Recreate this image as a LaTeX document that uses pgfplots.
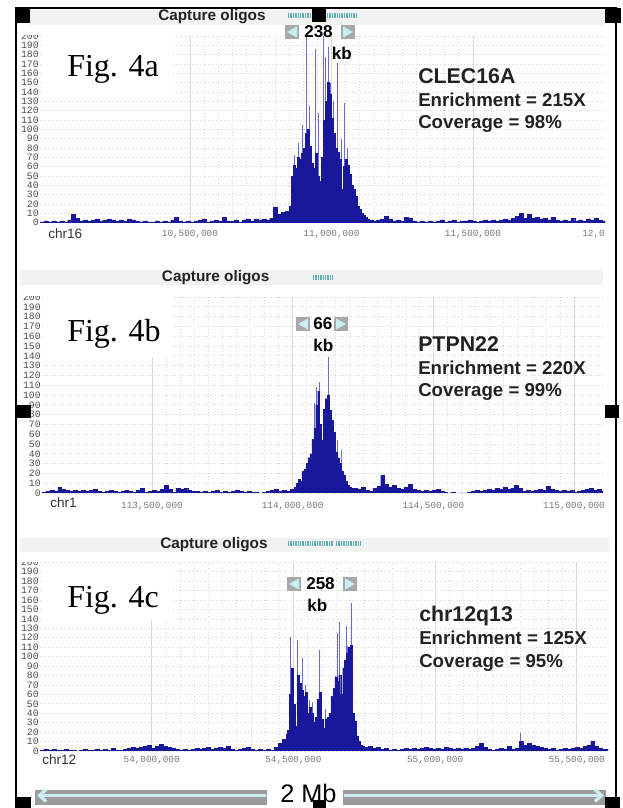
\documentclass[border=0pt]{standalone}
\usepackage{fontspec}
\setmainfont{Liberation Sans}
\newfontfamily\monofont{Liberation Mono}
\newfontfamily\figfont{Liberation Serif}
\usepackage{pgfplots}
\pgfplotsset{compat=1.18}
\usetikzlibrary{arrows.meta}

\definecolor{covc}{HTML}{18189A}
\definecolor{spkc}{HTML}{6A6AD0}
\definecolor{gridc}{HTML}{DADADA}
\definecolor{ylab}{HTML}{4A4A4A}
\definecolor{xlab}{HTML}{777777}
\definecolor{lbl}{HTML}{222222}
\definecolor{chrc}{HTML}{333333}
\definecolor{stripc}{HTML}{F2F2F2}
\definecolor{oligo}{HTML}{5DB3B5}
\definecolor{btng}{HTML}{A8A8A8}
\definecolor{btnc}{HTML}{CBEDF2}
\definecolor{barg}{HTML}{9C9C9C}

\pgfplotsset{
  browser/.style={
    scale only axis, anchor=south west,
    ymin=0, ymax=200, ytick={0,10,...,200},
    scaled x ticks=false,
    minor x tick num=9,
    grid=both,
    major x grid style={gridc, line width=0.5pt},
    minor x grid style={gridc, line width=0.4pt, dash pattern=on 0.8pt off 1.6pt},
    major y grid style={gridc, line width=0.5pt, dash pattern=on 0.8pt off 1.2pt},
    axis line style={draw=none},
    major tick length=0pt, minor tick length=0pt,
    /pgf/number format/assume math mode=true,
    yticklabel style={font=\monofont\fontsize{7.3}{7.3}\selectfont, text=ylab, inner sep=0.8pt},
    xticklabel style={font=\monofont\fontsize{7}{7}\selectfont, text=xlab, anchor=center},
  },
  cov/.style={const plot, fill=covc, draw=covc, line width=0.3pt},
  spk/.style={ycomb, draw=spkc, line width=0.75pt, mark=none},
}

% gray arrow buttons round the window size (top left corner in px)
\newcommand{\lbtn}[2]{\fill[btng] (#1,#2) rectangle ++(14,14);
  \fill[btnc] (#1+2,#2+7) -- (#1+12,#2+1.5) -- (#1+12,#2+12.5) -- cycle;}
\newcommand{\rbtn}[2]{\fill[btng] (#1,#2) rectangle ++(14,14);
  \fill[btnc] (#1+12,#2+7) -- (#1+2,#2+1.5) -- (#1+2,#2+12.5) -- cycle;}

\begin{document}
\begin{tikzpicture}
\useasboundingbox (0,0) rectangle (467.25pt,606pt);

% ---- Fig. 4a, chr16 (positions in kb)
\begin{axis}[browser, at={(30pt,438.975pt)}, width=423.75pt, height=140pt,
  xmin=9970, xmax=11967, xtick={10500,11000,11500},
  xticklabels={{10,500,000},{11,000,000},{11,500,000}},
  xticklabel style={yshift=-8.5pt}]
\addplot[spk] coordinates {
 (10868,72) (10885,85) (10899,105) (10912,200) (10924,125) (10942,186)
 (10954,118) (10971,200) (10979,178) (10988,188) (10998,150) (11009,130)
 (11023,171) (11034,90) (11048,128) (11058,80)};
\addplot[cov] coordinates {
 (9970,1) (9984,2) (9998,1) (10012,2) (10026,1) (10040,2) (10054,1) (10068,3)
 (10082,9) (10096,5) (10110,2) (10124,3) (10138,2) (10152,3) (10166,4) (10180,2)
 (10194,3) (10208,4) (10222,3) (10236,2) (10250,3) (10264,2) (10278,4) (10292,3)
 (10306,2) (10320,1) (10334,2) (10348,1) (10362,0) (10376,2) (10390,1) (10404,2)
 (10418,1) (10432,3) (10446,6) (10460,2) (10474,1) (10488,2) (10502,1) (10516,2)
 (10530,3) (10544,4) (10558,1) (10572,2) (10586,3) (10600,2) (10614,6) (10628,2)
 (10642,2) (10656,3) (10670,1) (10684,3) (10698,4) (10712,2) (10726,4) (10740,3)
 (10754,4) (10768,3) (10782,5) (10796,17) (10810,9) (10824,11) (10838,12)
 (10845,12) (10852,18) (10859,50) (10866,62) (10873,58) (10880,70) (10887,68)
 (10894,74) (10901,80) (10908,96) (10915,100) (10922,82) (10929,64) (10936,58)
 (10943,74) (10950,50) (10957,44) (10964,70) (10971,110) (10978,130) (10985,150)
 (10992,138) (10999,112) (11006,96) (11013,80) (11020,76) (11027,68) (11034,36)
 (11041,60) (11048,68) (11055,62) (11062,52) (11069,40) (11076,36) (11083,28)
 (11090,18) (11097,14) (11104,10) (11111,8) (11118,6) (11125,4)
 (11132,3) (11146,2) (11160,3) (11174,4) (11188,7) (11202,4) (11216,2) (11230,3)
 (11244,2) (11258,6) (11272,5) (11286,2) (11300,1) (11314,2) (11328,1) (11342,2)
 (11356,1) (11370,2) (11384,3) (11398,1) (11412,2) (11426,3) (11440,1) (11454,2)
 (11468,2) (11482,3) (11496,2) (11510,1) (11524,2) (11538,3) (11552,2) (11566,3)
 (11580,2) (11594,3) (11608,4) (11622,3) (11636,5) (11650,7) (11664,10) (11678,5)
 (11692,9) (11706,5) (11720,6) (11734,4) (11748,5) (11762,3) (11776,6) (11790,3)
 (11804,2) (11818,3) (11832,2) (11846,5) (11860,2) (11874,3) (11888,2) (11902,4)
 (11916,3) (11930,5) (11944,3) (11958,2) (11967,2)} \closedcycle;
\end{axis}

% ---- Fig. 4b, chr1
\begin{axis}[browser, at={(31.5pt,236.25pt)}, width=420.75pt, height=147pt,
  xmin=113109, xmax=115103, xtick={113500,114000,114500,115000},
  xticklabels={{113,500,000},{114,000,000},{114,500,000},{115,000,000}},
  xticklabel style={yshift=-9.75pt}]
\addplot[spk] coordinates {
 (114079,92) (114086,108) (114095,113) (114115,97) (114127,139) (114136,85)
 (114161,54) (114174,44)};
\addplot[cov] coordinates {
 (113109,1) (113123,2) (113137,3) (113151,2) (113165,6) (113179,4) (113193,3)
 (113207,2) (113221,3) (113235,2) (113249,3) (113263,2) (113277,3) (113291,4)
 (113305,2) (113319,1) (113333,2) (113347,3) (113361,2) (113375,1) (113389,2)
 (113403,3) (113417,2) (113431,1) (113445,3) (113459,5) (113473,1) (113487,2)
 (113501,3) (113515,2) (113529,4) (113543,8) (113557,4) (113571,1) (113585,5)
 (113599,4) (113613,5) (113627,3) (113641,2) (113655,2) (113669,1) (113683,2)
 (113697,1) (113711,2) (113725,3) (113739,1) (113753,2) (113767,1) (113781,2)
 (113795,3) (113809,2) (113823,1) (113837,2) (113851,1) (113865,1) (113879,0)
 (113893,1) (113907,2) (113921,3) (113935,4) (113949,2) (113963,3) (113977,2)
 (113991,4) (114005,6)
 (114012,10) (114019,14) (114026,12) (114033,22) (114040,24) (114047,30)
 (114054,36) (114061,40) (114068,55) (114075,66) (114082,90) (114089,104)
 (114096,70) (114103,54) (114110,85) (114117,96) (114124,100) (114131,84)
 (114138,74) (114145,62) (114152,42) (114159,36) (114166,30) (114173,22)
 (114180,18) (114187,12) (114194,8) (114201,6) (114208,5)
 (114215,5) (114229,4) (114243,6) (114257,3) (114271,2) (114285,5) (114299,7)
 (114313,18) (114327,9) (114341,6) (114355,8) (114369,5) (114383,4) (114397,6)
 (114411,9) (114425,4) (114439,3) (114453,2) (114467,3) (114481,2) (114495,3)
 (114509,4) (114523,2) (114537,1) (114551,0) (114565,1) (114579,0) (114593,0)
 (114607,0) (114621,1) (114635,2) (114649,3) (114663,2) (114677,3) (114691,4)
 (114705,3) (114719,5) (114733,4) (114747,6) (114761,4) (114775,5) (114789,8)
 (114803,5) (114817,2) (114831,3) (114845,2) (114859,3) (114873,4) (114887,3)
 (114901,7) (114915,4) (114929,3) (114943,2) (114957,3) (114971,2) (114985,3)
 (114999,1) (115013,2) (115027,3) (115041,4) (115055,5) (115069,3) (115083,4)
 (115097,2) (115103,2)} \closedcycle;
\end{axis}

% ---- Fig. 4c, chr12
\begin{axis}[browser, at={(30pt,42.75pt)}, width=426pt, height=141.6pt,
  xmin=53606, xmax=55610, xtick={54000,54500,55000,55500},
  xticklabels={{54,000,000},{54,500,000},{55,000,000},{55,500,000}},
  xticklabel style={yshift=-6.75pt}]
\addplot[spk] coordinates {
 (54491,121) (54514,118) (54533,99) (54541,70) (54556,54) (54569,52) (54591,107)
 (54612,45) (54647,79) (54655,125) (54662,137) (54686,132) (54690,111)
 (54706,157) (55300,19)};
\addplot[cov] coordinates {
 (53606,1) (53620,2) (53634,1) (53648,2) (53662,1) (53676,1) (53690,2) (53704,1)
 (53718,1) (53732,0) (53746,1) (53760,2) (53774,1) (53788,1) (53802,2) (53816,1)
 (53830,2) (53844,1) (53858,3) (53872,1) (53886,1) (53900,2) (53914,3) (53928,4)
 (53942,3) (53956,4) (53970,5) (53984,6) (53998,3) (54012,5) (54026,7) (54040,5)
 (54054,4) (54068,3) (54082,2) (54096,1) (54110,2) (54124,1) (54138,2) (54152,3)
 (54166,2) (54180,3) (54194,4) (54208,2) (54222,3) (54236,4) (54250,3) (54264,5)
 (54278,2) (54292,1) (54306,2) (54320,3) (54334,4) (54348,2) (54362,1) (54376,2)
 (54390,1) (54404,2) (54418,1) (54432,4) (54446,8) (54460,12) (54474,18)
 (54478,22) (54485,60) (54492,88) (54499,50) (54506,26) (54513,80) (54520,72)
 (54527,64) (54534,58) (54541,62) (54548,40) (54555,46) (54562,40) (54569,30)
 (54576,36) (54583,55) (54590,62) (54597,34) (54604,24) (54611,34) (54618,36)
 (54625,40) (54632,58) (54639,66) (54646,78) (54653,74) (54660,80) (54667,60)
 (54674,88) (54681,96) (54688,104) (54695,110) (54702,112) (54709,40) (54716,32)
 (54723,16) (54730,10) (54737,6) (54744,5)
 (54751,4) (54765,5) (54779,3) (54793,4) (54807,2) (54821,3) (54835,1) (54849,2)
 (54863,1) (54877,2) (54891,3) (54905,2) (54919,3) (54933,2) (54947,3) (54961,4)
 (54975,3) (54989,2) (55003,3) (55017,2) (55031,4) (55045,3) (55059,2) (55073,3)
 (55087,2) (55101,3) (55115,2) (55129,3) (55143,5) (55157,8) (55171,4) (55185,2)
 (55199,1) (55213,2) (55227,3) (55241,2) (55255,5) (55269,2) (55283,3) (55297,10)
 (55311,6) (55325,8) (55339,6) (55353,5) (55367,4) (55381,3) (55395,2) (55409,3)
 (55423,1) (55437,2) (55451,3) (55465,2) (55479,3) (55493,4) (55507,3) (55521,5)
 (55535,6) (55549,10) (55563,5) (55577,3) (55591,2) (55605,2) (55610,2)} \closedcycle;
\end{axis}

% ---- decorations, in pixels from the top left corner
\begin{scope}[x=0.75pt, y=-0.75pt, yshift=606pt, every node/.style={inner sep=0pt}]
% white patches behind the figure names and over the cut 200 labels
\fill[white] (40.5,36.5) rectangle (173,93);
\fill[white] (42.5,297.5) rectangle (173,357);
\fill[white] (40.5,562.8) rectangle (173,620);
\fill[white] (16,26) rectangle (41,35.5);
\fill[white] (16,286) rectangle (42,296.5);
\fill[white] (16,553) rectangle (40,561.8);

% capture oligo tracks
\fill[stripc] (30,10) rectangle (605,25);
\fill[stripc] (20,270) rectangle (603,285);
\fill[stripc] (20,538) rectangle (609,552);
\begin{scope}[oligo, line width=3.75pt, dash pattern=on 1.1pt off 0.7pt]
\draw (288,15.5) -- (323,15.5); \draw (327,15.5) -- (357,15.5);
\draw (313,277.7) -- (333,277.7);
\draw (288,544) -- (333,544); \draw (336,544) -- (362,544);
\end{scope}
\node[anchor=base west, font=\bfseries\fontsize{11.5}{12}\selectfont, text=lbl] at (158,21) {Capture oligos};
\node[anchor=base west, font=\bfseries\fontsize{11.5}{12}\selectfont, text=lbl] at (161.7,281.7) {Capture oligos};
\node[anchor=base west, font=\bfseries\fontsize{11.5}{12}\selectfont, text=lbl] at (160,549) {Capture oligos};

% figure names
\node[anchor=base west, font=\figfont\fontsize{24}{24}\selectfont] at (67,77) {Fig. 4a};
\node[anchor=base west, font=\figfont\fontsize{24}{24}\selectfont] at (67,341.7) {Fig. 4b};
\node[anchor=base west, font=\figfont\fontsize{24}{24}\selectfont] at (67,608) {Fig. 4c};

% window sizes
\lbtn{285}{25} \rbtn{341}{25}
\node[anchor=base west, font=\bfseries\fontsize{12.8}{13}\selectfont] at (304,37.3) {238};
\node[anchor=base west, font=\bfseries\fontsize{12.8}{13}\selectfont] at (331.7,60) {kb};
\lbtn{296}{317} \rbtn{334}{317}
\node[anchor=base west, font=\bfseries\fontsize{12.8}{13}\selectfont] at (313,330) {66};
\node[anchor=base west, font=\bfseries\fontsize{12.8}{13}\selectfont] at (313,351.7) {kb};
\lbtn{287}{577} \rbtn{343}{577}
\node[anchor=base west, font=\bfseries\fontsize{12.8}{13}\selectfont] at (306,590) {258};
\node[anchor=base west, font=\bfseries\fontsize{12.8}{13}\selectfont] at (307,611.7) {kb};

% gene summaries
\begin{scope}[every node/.append style={anchor=base west, text=lbl}]
\node[font=\bfseries\fontsize{16}{16}\selectfont] at (418,83.3) {CLEC16A};
\node[font=\bfseries\fontsize{14}{14}\selectfont] at (418,107) {Enrichment = 215X};
\node[font=\bfseries\fontsize{14}{14}\selectfont] at (418,129) {Coverage = 98\%};
\node[font=\bfseries\fontsize{16}{16}\selectfont] at (418,351.7) {PTPN22};
\node[font=\bfseries\fontsize{14}{14}\selectfont] at (418,375) {Enrichment = 220X};
\node[font=\bfseries\fontsize{14}{14}\selectfont] at (418,396.7) {Coverage = 99\%};
\node[font=\bfseries\fontsize{16}{16}\selectfont] at (419,621.7) {chr12q13};
\node[font=\bfseries\fontsize{14}{14}\selectfont] at (419,645) {Enrichment = 125X};
\node[font=\bfseries\fontsize{14}{14}\selectfont] at (419,668) {Coverage = 95\%};
\end{scope}

% chromosome names and the cut last tick label
\node[anchor=base west, font=\fontsize{10.2}{11}\selectfont, text=chrc] at (48,238.3) {chr16};
\node[anchor=base west, font=\fontsize{10.2}{11}\selectfont, text=chrc] at (50,508) {chr1};
\node[anchor=base west, font=\fontsize{10.2}{11}\selectfont, text=chrc] at (42,765) {chr12};
\node[anchor=base east, font=\monofont\fontsize{7}{7}\selectfont, text=xlab] at (605,236.5) {12,0};

% 2 Mb scale bar
\fill[barg] (35,790) rectangle (267,805);
\fill[barg] (343,790) rectangle (606,805);
\draw[btnc, line width=2.5pt, -{Straight Barb[length=5pt, width=9pt]}] (266,795.5) -- (37,795.5);
\draw[btnc, line width=2.5pt, -{Straight Barb[length=5pt, width=9pt]}] (344,795.5) -- (604,795.5);
\node[anchor=base west, font=\fontsize{19}{19}\selectfont] at (280,802.8) {2 Mb};

% selection frame and handles
\draw[line width=1.5pt] (16,808) -- (16,8.5) -- (615.5,8.5) -- (615.5,808);
\fill (15,8) rectangle (30,23);
\fill (312,8) rectangle (326,22);
\fill (605,8) rectangle (621,23);
\fill (15,405) rectangle (31,418);
\fill (605,405) rectangle (619,418);
\fill (15,797) rectangle (31,808);
\fill (313,800) rectangle (326,808);
\fill (605,797) rectangle (620,808);
\end{scope}
\end{tikzpicture}
\end{document}
